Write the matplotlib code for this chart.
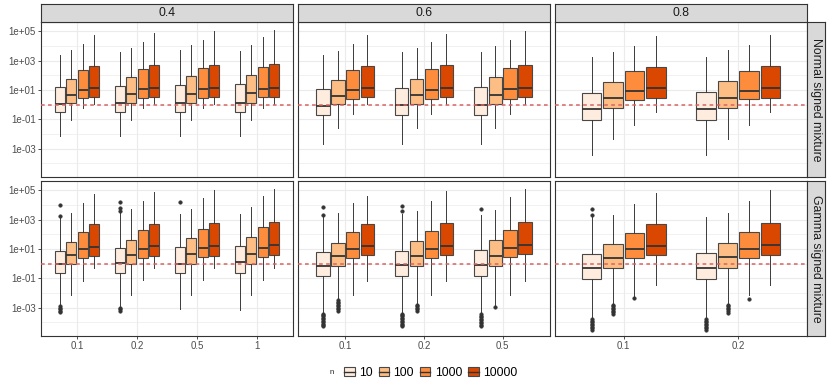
import matplotlib
matplotlib.use('Agg')
import matplotlib.pyplot as plt
from matplotlib.patches import Patch
from matplotlib.lines import Line2D
from matplotlib.legend_handler import HandlerTuple
from matplotlib.ticker import FixedLocator, FixedFormatter, NullFormatter

plt.rcParams['font.family'] = ['Liberation Sans', 'DejaVu Sans']

# facets
col_labels = ['0.4', '0.6', '0.8']
row_labels = ['Normal signed mixture', 'Gamma signed mixture']
x_cats = [['0.1', '0.2', '0.5', '1'], ['0.1', '0.2', '0.5'], ['0.1', '0.2']]
n_levels = ['10', '100', '1000', '10000']
n_colors = ['#FEEDDE', '#FDBE85', '#FD8D3C', '#D94701']

# box stats in log10 units, per category, per n:
# [whisker low, q1, median, q3, whisker high]
normal_04 = [
    [[-2.10, -0.52, 0.05, 1.18, 3.36], [-1.02, 0.09, 0.68, 1.75, 3.75], [-0.23, 0.43, 1.02, 2.34, 4.16], [0.07, 0.52, 1.14, 2.61, 4.77]],
    [[-2.16, -0.50, 0.09, 1.25, 3.59], [-1.07, 0.11, 0.73, 1.86, 3.86], [-0.23, 0.45, 1.05, 2.43, 4.25], [0.07, 0.52, 1.14, 2.68, 4.89]],
    [[-2.10, -0.50, 0.09, 1.32, 3.75], [-1.02, 0.11, 0.73, 1.93, 4.05], [-0.23, 0.45, 1.07, 2.52, 4.43], [0.07, 0.52, 1.14, 2.73, 5.00]],
    [[-2.10, -0.50, 0.14, 1.39, 3.68], [-1.07, 0.11, 0.77, 2.00, 4.09], [-0.23, 0.52, 1.07, 2.57, 4.59], [0.07, 0.52, 1.16, 2.77, 5.11]],
]
normal_06 = [
    [[-2.66, -0.73, -0.07, 1.07, 3.41], [-1.59, 0.05, 0.61, 1.68, 3.64], [-0.64, 0.41, 1.02, 2.34, 4.16], [0.05, 0.50, 1.14, 2.61, 4.77]],
    [[-2.66, -0.73, -0.05, 1.14, 3.57], [-1.57, 0.05, 0.64, 1.77, 3.84], [-0.64, 0.41, 1.02, 2.43, 4.25], [0.05, 0.50, 1.14, 2.68, 4.84]],
    [[-2.66, -0.73, -0.02, 1.20, 3.59], [-1.57, 0.05, 0.64, 1.89, 3.98], [-0.64, 0.41, 1.05, 2.52, 4.39], [0.05, 0.50, 1.16, 2.73, 5.00]],
]
normal_08 = [
    [[-3.45, -1.07, -0.32, 0.82, 3.25], [-2.34, -0.25, 0.43, 1.55, 3.57], [-1.39, 0.30, 0.95, 2.27, 4.02], [-0.50, 0.45, 1.11, 2.59, 4.70]],
    [[-3.45, -1.02, -0.32, 0.86, 3.25], [-2.34, -0.25, 0.43, 1.59, 3.70], [-1.39, 0.36, 0.95, 2.32, 4.09], [-0.50, 0.45, 1.11, 2.64, 4.77]],
]
gamma_04 = [
    [[-2.84, -0.64, 0.00, 0.90, 3.11], [-2.16, -0.02, 0.59, 1.50, 3.45], [-1.16, 0.41, 1.02, 2.16, 4.16], [-0.27, 0.54, 1.16, 2.68, 4.75]],
    [[-2.90, -0.60, 0.02, 1.07, 3.50], [-2.14, -0.02, 0.59, 1.59, 3.73], [-1.14, 0.39, 1.02, 2.27, 4.30], [-0.30, 0.50, 1.18, 2.73, 4.86]],
    [[-3.10, -0.64, 0.00, 1.14, 3.41], [-2.14, -0.02, 0.64, 1.73, 3.75], [-1.14, 0.43, 1.05, 2.39, 4.48], [-0.30, 0.55, 1.20, 2.77, 5.05]],
    [[-3.18, -0.61, 0.09, 1.20, 3.41], [-2.16, -0.02, 0.66, 1.82, 3.86], [-1.14, 0.43, 1.05, 2.50, 4.59], [-0.30, 0.59, 1.25, 2.84, 5.09]],
]
gamma_06 = [
    [[-3.36, -0.87, -0.14, 0.77, 3.20], [-2.46, -0.16, 0.50, 1.43, 3.43], [-2.16, 0.39, 1.00, 2.13, 4.11], [-1.20, 0.59, 1.20, 2.70, 4.63]],
    [[-3.36, -0.86, -0.11, 0.89, 3.40], [-2.70, -0.16, 0.52, 1.55, 3.59], [-2.16, 0.39, 1.02, 2.25, 4.30], [-1.16, 0.57, 1.23, 2.77, 4.93]],
    [[-3.36, -0.86, -0.11, 0.95, 3.34], [-2.80, -0.16, 0.55, 1.64, 3.68], [-2.16, 0.43, 1.07, 2.32, 4.52], [-1.16, 0.64, 1.27, 2.82, 5.11]],
]
gamma_08 = [
    [[-3.70, -1.07, -0.30, 0.68, 3.25], [-2.68, -0.27, 0.41, 1.36, 3.29], [-2.18, 0.36, 1.00, 2.09, 4.07], [-1.43, 0.59, 1.23, 2.70, 4.82]],
    [[-3.70, -1.05, -0.30, 0.73, 3.16], [-2.68, -0.30, 0.43, 1.41, 3.45], [-2.10, 0.36, 1.02, 2.14, 4.30], [-1.43, 0.62, 1.25, 2.75, 5.00]],
]

# outliers (log10), keyed by (category index, n index)
gamma_04_out = {
    (0, 0): [4.02, 3.27, -2.90, -3.00, -3.10, -3.20, -3.30],
    (1, 0): [4.20, 3.80, 3.61, -3.00, -3.10, -3.20],
    (2, 0): [4.20],
}
gamma_06_out = {
    (0, 0): [3.84, 3.29, -3.40, -3.50, -3.60, -3.70, -3.80, -3.90, -4.00, -4.10, -4.20, -4.27],
    (0, 1): [-2.50, -2.60, -2.70, -2.80, -2.90, -3.00, -3.10, -3.20],
    (1, 0): [3.95, 3.57, -3.40, -3.50, -3.60, -3.70, -3.80, -3.90, -4.00, -4.10, -4.20, -4.27],
    (1, 1): [-2.80, -2.90, -3.00, -3.10, -3.20],
    (2, 0): [3.75, -3.45, -3.55, -3.65, -3.75, -3.85, -3.95, -4.05, -4.15, -4.27],
    (2, 1): [-2.98],
}
gamma_08_out = {
    (0, 0): [3.75, 3.34, -3.80, -3.90, -4.00, -4.10, -4.20, -4.30, -4.40, -4.50],
    (0, 1): [-2.80, -2.90, -3.00, -3.10, -3.20, -3.30, -3.43],
    (0, 2): [-2.37],
    (1, 0): [-3.80, -3.90, -4.00, -4.10, -4.20, -4.30, -4.40, -4.50],
    (1, 1): [-2.80, -2.90, -3.00, -3.10, -3.20, -3.35],
    (1, 2): [-2.41],
}

panels = [[normal_04, normal_06, normal_08], [gamma_04, gamma_06, gamma_08]]
outliers = [[{}, {}, {}], [gamma_04_out, gamma_06_out, gamma_08_out]]

y_major = [-3, -1, 1, 3, 5]
y_major_labels = ['1e-03', '1e-01', '1e+01', '1e+03', '1e+05']
y_minor = [-4, -2, 0, 2, 4]
y_lim = (-4.93, 5.64)

W, H = 830, 388
fig = plt.figure(figsize=(W / 100, H / 100), dpi=100)

dark = '#333333'
col_left = [41, 298, 555]
col_w = 252
row_top = [22, 181]
row_h = 155
dodge = 0.75 / 4
box_w = dodge * 0.9

for r in range(2):
    for c in range(3):
        ax = fig.add_axes([col_left[c] / W, 1 - (row_top[r] + row_h) / H, col_w / W, row_h / H])
        data = panels[r][c]
        outs = outliers[r][c]
        ncat = len(x_cats[c])
        for j in range(4):
            stats = []
            pos = []
            for i in range(ncat):
                lo, q1, med, q3, hi = data[i][j]
                stats.append(dict(whislo=10 ** lo, q1=10 ** q1, med=10 ** med, q3=10 ** q3,
                                  whishi=10 ** hi, fliers=[10 ** v for v in outs.get((i, j), [])]))
                pos.append(i + 1 + (j - 1.5) * dodge)
            ax.bxp(stats, positions=pos, widths=box_w, patch_artist=True, showcaps=False,
                   manage_ticks=False,
                   boxprops=dict(facecolor=n_colors[j], edgecolor='#484848', linewidth=0.8),
                   medianprops=dict(color=dark, linewidth=1.3),
                   whiskerprops=dict(color='#3a3a3a', linewidth=0.7),
                   flierprops=dict(marker='o', markersize=2.6, markerfacecolor=dark,
                                   markeredgecolor=dark, markeredgewidth=0.3))
        ax.axhline(1, color='#d96262', ls=(0, (2.4, 2.2)), lw=1.1, zorder=5)

        ax.set_yscale('log')
        ax.set_ylim(10 ** y_lim[0], 10 ** y_lim[1])
        ax.set_xlim(0.4, ncat + 0.6)
        ax.yaxis.set_major_locator(FixedLocator([10.0 ** v for v in y_major]))
        ax.yaxis.set_minor_locator(FixedLocator([10.0 ** v for v in y_minor]))
        ax.yaxis.set_minor_formatter(NullFormatter())
        ax.set_xticks(range(1, ncat + 1))
        ax.grid(True, which='major', color='#EBEBEB', lw=0.8)
        ax.grid(True, which='minor', axis='y', color='#EBEBEB', lw=0.5)
        ax.set_axisbelow(True)
        ax.tick_params(which='minor', length=0)
        ax.tick_params(which='major', length=2.2, width=0.6, color=dark, pad=1.5)
        for s in ax.spines.values():
            s.set_color(dark)
            s.set_linewidth(0.8)

        if c == 0:
            ax.yaxis.set_major_formatter(FixedFormatter(y_major_labels))
            ax.tick_params(axis='y', labelsize=7, labelcolor='#4D4D4D')
        else:
            ax.yaxis.set_major_formatter(NullFormatter())
            ax.tick_params(axis='y', which='major', left=False)
        if r == 1:
            ax.set_xticklabels(x_cats[c])
            ax.tick_params(axis='x', labelsize=7, labelcolor='#4D4D4D')
        else:
            ax.tick_params(axis='x', bottom=False, labelbottom=False)

        # strips
        if r == 0:
            sa = fig.add_axes([col_left[c] / W, 1 - row_top[0] / H, col_w / W, 18 / H])
            sa.set_facecolor('#D9D9D9')
            sa.set_xticks([])
            sa.set_yticks([])
            for s in sa.spines.values():
                s.set_color(dark)
                s.set_linewidth(0.8)
            sa.text(0.5, 0.48, col_labels[c], ha='center', va='center', fontsize=8.8,
                    color='#1A1A1A', transform=sa.transAxes)
        if c == 2:
            sa = fig.add_axes([(col_left[2] + col_w) / W, 1 - (row_top[r] + row_h) / H, 18 / W, row_h / H])
            sa.set_facecolor('#D9D9D9')
            sa.set_xticks([])
            sa.set_yticks([])
            for s in sa.spines.values():
                s.set_color(dark)
                s.set_linewidth(0.8)
            sa.text(0.5, 0.5, row_labels[r], ha='center', va='center', fontsize=8.8,
                    rotation=270, color='#1A1A1A', transform=sa.transAxes)

# legend
handles = [(Patch(facecolor=col, edgecolor='#484848', linewidth=0.8),
            Line2D([], [], color=dark, lw=1.0)) for col in n_colors]
fig.legend(handles, n_levels, loc='center', bbox_to_anchor=(0.519, 1 - 373 / H), ncol=4,
           frameon=False, fontsize=8.8, handlelength=0.85, handleheight=0.75,
           handletextpad=0.35, columnspacing=0.5,
           handler_map={tuple: HandlerTuple(ndivide=1, pad=0)})
fig.text(332 / W, 1 - 373 / H, 'n', ha='center', va='center', fontsize=5.5, color='#1A1A1A')

fig.savefig('out.png', dpi=100)
